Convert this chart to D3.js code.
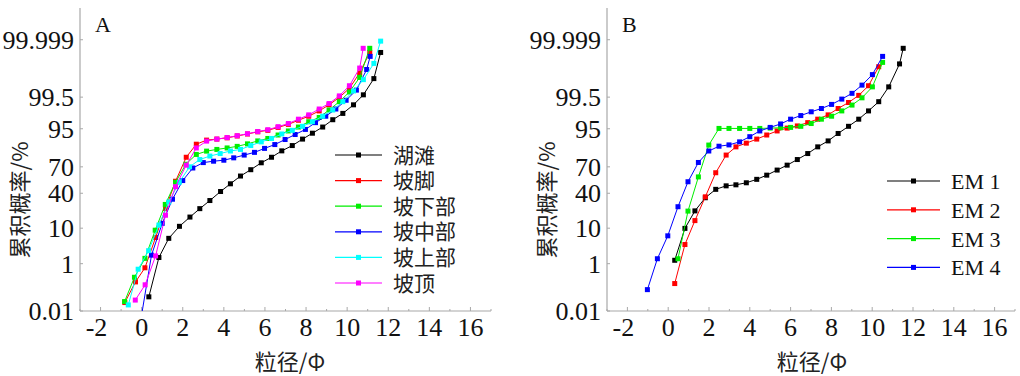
<!DOCTYPE html>
<html>
<head>
<meta charset="utf-8">
<script src="https://cdn.jsdelivr.net/npm/d3@7"></script>
<style>
  body { margin: 0; background: #fff; }
  svg { display: block; }
  .tick-label { font-family: "Liberation Serif", "Times New Roman", serif; font-size: 26px; fill: #111; }
  .cjk { font-family: "Noto Sans CJK SC", sans-serif; fill: #222; }
</style>
</head>
<body>
<svg id="chart" width="1020" height="376"></svg>
<script>
// ---- data (percent cumulative vs phi) ----
var yTicks = [0.01, 1, 10, 40, 70, 95, 99.5, 99.999];
var xTicks = [-2, 0, 2, 4, 6, 8, 10, 12, 14, 16];

var namesA = ['湖滩', '坡脚', '坡下部', '坡中部', '坡上部', '坡顶'];
var namesB = ['EM 1', 'EM 2', 'EM 3', 'EM 4'];
var colorsA = ['#000000', '#ff0000', '#00ee00', '#0000ff', '#00ffff', '#ff00ff'];
var colorsB = ['#000000', '#ff0000', '#00ee00', '#0000ff'];

var lakeX = [0.35,0.84,1.32,1.84,2.35,2.83,3.32,3.84,4.32,4.81,5.31,5.82,6.32,6.82,7.33,7.83,8.31,8.81,9.30,9.79,10.31,10.79,11.30,11.63];
var lakeP = [0.048,1.6,5.7,11,17,24,32,42,51,60,67,74,79,84,87.5,91,93.5,95.5,97.2,98.2,99.06,99.59,99.91,99.995];

var footX = [-0.82,-0.30,0.16,0.68,1.16,1.65,2.17,2.66,3.16,3.66,4.16,4.65,5.15,5.65,6.14,6.64,7.14,7.63,8.13,8.64,9.12,9.62,10.11,10.61,11.10];
var footP = [0.026,0.21,0.72,6.0,24,54,79,88.3,90.5,91,91.6,92.4,93.2,94,94.5,95.4,96.2,97.1,97.8,98.5,99.06,99.49,99.77,99.95,99.995];

var lowX = [-0.83,-0.35,0.16,0.66,1.15,1.65,2.15,2.66,3.16,3.66,4.16,4.65,5.15,5.65,6.14,6.64,7.14,7.63,8.13,8.64,9.12,9.62,10.11,10.61,11.10];
var lowP = [0.029,0.32,1.5,9,28,52.8,72.6,81.3,83.8,85,86,87,88.5,90.1,91.3,92.8,94.3,95.5,96.8,97.6,98.6,99.27,99.68,99.92,99.997];

var midX = [-0.05,0.48,1.0,1.5,2.0,2.49,3.0,3.5,4.0,4.48,4.99,5.49,5.98,6.48,6.98,7.47,7.97,8.46,8.96,9.45,9.95,10.45,10.95,11.12];
var midP = [0.003,1.9,12.7,33.4,54.8,68.8,74.2,75.5,76.4,78.5,80.8,82.9,85.7,88.1,90.8,93,94.8,96.6,97.8,98.7,99.35,99.73,99.965,99.992];

var upX = [-0.65,-0.17,0.34,0.84,1.32,1.83,2.33,2.83,3.32,3.82,4.32,4.81,5.31,5.82,6.32,6.82,7.33,7.83,8.31,8.81,9.30,9.79,10.31,10.79,11.30,11.63];
var upP = [0.02,0.64,2.6,11.7,30.5,52.8,70,77,80,82,83.9,85,87.5,89.6,91.3,93.2,94.5,95.7,96.8,97.8,98.6,99.27,99.71,99.90,99.982,99.9988];

var topX = [-0.31,0.17,0.68,1.16,1.65,2.17,2.66,3.16,3.66,4.16,4.65,5.15,5.65,6.14,6.64,7.14,7.63,8.13,8.64,9.12,9.62,10.11,10.61,10.78];
var topP = [0.034,0.16,1.8,18.4,47.6,71.7,86,90,91,91.7,92.5,93.3,94.1,94.7,95.6,96.4,97.3,98,98.7,99.15,99.55,99.82,99.97,99.997];

var em1X = [0.32,0.82,1.31,1.82,2.33,2.84,3.32,3.83,4.34,4.83,5.34,5.83,6.33,6.84,7.33,7.84,8.33,8.84,9.34,9.82,10.32,10.81,11.34,11.52];
var em1P = [1.3,9.9,22,35,44.5,48.6,49.8,52.2,56.2,61,66.6,71.7,77,82,86.7,90.1,93.4,95.7,97.3,98.5,99.27,99.80,99.981,99.997];

var em2X = [0.32,0.82,1.31,1.82,2.33,2.84,3.32,3.83,4.34,4.83,5.34,5.83,6.33,6.84,7.33,7.84,8.33,8.84,9.34,9.82,10.32];
var em2P = [0.18,3.9,14.5,36,63.7,80.8,86.7,88.9,91,92.8,94.3,95.2,95.8,96.6,97.3,98.0,98.75,99.22,99.57,99.82,99.974];

var em3X = [0.48,0.97,1.48,1.99,2.49,2.98,3.50,4.0,4.49,5.0,5.51,6.0,6.50,7.01,7.51,8.01,8.51,9.01,9.50,10.01,10.51];
var em3P = [1.46,21.8,59,87.8,95.1,95.1,95.1,95.1,95.1,95.2,95.3,95.4,95.7,96.4,97.3,97.8,98.5,99.04,99.47,99.80,99.984];

var em4X = [-1.02,-0.53,-0.02,0.48,0.97,1.48,1.99,2.49,2.98,3.50,4.0,4.49,5.0,5.51,6.0,6.50,7.01,7.51,8.01,8.51,9.01,9.50,10.01,10.51];
var em4P = [0.10,1.46,6.6,25.8,53.4,74.3,83.9,87.1,87.9,89.6,92.1,94.3,95.4,96.3,97.3,97.9,98.4,98.75,99.09,99.41,99.64,99.83,99.94,99.992];

// inverse normal cdf (Acklam) -> probability axis
function probit(p) {
    var a = [-3.969683028665376e+01, 2.209460984245205e+02, -2.759285104469687e+02, 1.383577518672690e+02, -3.066479806614716e+01, 2.506628277459239e+00];
    var b = [-5.447609879822406e+01, 1.615858368580409e+02, -1.556989798598866e+02, 6.680131188771972e+01, -1.328068155288572e+01];
    var c = [-7.784894002430293e-03, -3.223964580411365e-01, -2.400758277161838e+00, -2.549732539343734e+00, 4.374664141464968e+00, 2.938163982698783e+00];
    var d = [7.784695709041462e-03, 3.224671290700398e-01, 2.445134137142996e+00, 3.754408661907416e+00];
    var plow = 0.02425, q, r;
    if (p < plow) {
        q = Math.sqrt(-2 * Math.log(p));
        return (((((c[0]*q+c[1])*q+c[2])*q+c[3])*q+c[4])*q+c[5]) / ((((d[0]*q+d[1])*q+d[2])*q+d[3])*q+1);
    }
    if (p <= 1 - plow) {
        q = p - 0.5; r = q * q;
        return (((((a[0]*r+a[1])*r+a[2])*r+a[3])*r+a[4])*r+a[5])*q / (((((b[0]*r+b[1])*r+b[2])*r+b[3])*r+b[4])*r+1);
    }
    q = Math.sqrt(-2 * Math.log(1 - p));
    return -(((((c[0]*q+c[1])*q+c[2])*q+c[3])*q+c[4])*q+c[5]) / ((((d[0]*q+d[1])*q+d[2])*q+d[3])*q+1);
}

var svg = d3.select("#chart");
var plotTop = 8, plotBottom = 311;

var zScale = d3.scaleLinear()
    .domain([probit(0.0001), probit(0.9999999)])
    .range([plotBottom, plotTop]);
function yPos(pct) { return zScale(probit(pct / 100)); }

function drawPanel(cfg) {
    var x = d3.scaleLinear().domain([-3, 17]).range([cfg.left, cfg.right]);
    var g = svg.append("g");

    // axes lines
    g.append("line").attr("x1", cfg.left).attr("x2", cfg.left).attr("y1", plotTop).attr("y2", plotBottom)
        .attr("stroke", "#a8a8a8").attr("stroke-width", 1.2);
    g.append("line").attr("x1", cfg.left).attr("x2", cfg.right).attr("y1", plotBottom).attr("y2", plotBottom)
        .attr("stroke", "#a8a8a8").attr("stroke-width", 1.2);

    // x ticks (major + minor, inward)
    d3.range(-3, 18, 1).forEach(function(v) {
        var major = v % 2 === 0;
        g.append("line").attr("x1", x(v)).attr("x2", x(v))
            .attr("y1", plotBottom).attr("y2", plotBottom - (major ? 4 : 2))
            .attr("stroke", "#a8a8a8");
    });
    g.selectAll("text.xt").data(xTicks).enter().append("text")
        .attr("class", "tick-label")
        .attr("x", function(d) { return x(d) - (d < 0 ? 4 : 0); })
        .attr("y", 336)
        .attr("text-anchor", "middle")
        .text(function(d) { return d; });

    // y ticks
    g.selectAll("line.yt").data(yTicks).enter().append("line")
        .attr("x1", cfg.left).attr("x2", cfg.left + 3)
        .attr("y1", function(d) { return yPos(d); })
        .attr("y2", function(d) { return yPos(d); })
        .attr("stroke", "#a8a8a8");
    g.selectAll("text.yt").data(yTicks).enter().append("text")
        .attr("class", "tick-label")
        .attr("x", cfg.left - 6)
        .attr("y", function(d) { return yPos(d); })
        .attr("dy", "0.35em")
        .attr("text-anchor", "end")
        .text(function(d) { return d; });

    // titles
    g.append("text").attr("class", "cjk")
        .attr("transform", "translate(" + (cfg.left - 52) + ",200) rotate(-90)")
        .attr("text-anchor", "middle").attr("font-size", 22)
        .text("累积概率/%");
    g.append("text").attr("class", "cjk")
        .attr("x", cfg.xTitle).attr("y", 370)
        .attr("text-anchor", "middle").attr("font-size", 22)
        .text("粒径/Φ");
    g.append("text").attr("class", "tick-label")
        .attr("x", cfg.left + 15).attr("y", 32)
        .style("font-size", "22px")
        .text(cfg.tag);

    // series, clipped to plot area
    svg.append("clipPath").attr("id", "clip" + cfg.tag)
        .append("rect").attr("x", cfg.left).attr("y", plotTop - 4)
        .attr("width", cfg.right - cfg.left).attr("height", plotBottom - plotTop + 4);
    var plot = g.append("g").attr("clip-path", "url(#clip" + cfg.tag + ")");

    var line = d3.line().x(function(d) { return x(d[0]); }).y(function(d) { return yPos(d[1]); });

    cfg.series.forEach(function(s) {
        var pts = d3.zip(s.xs, s.ps);
        plot.append("path").datum(pts)
            .attr("fill", "none").attr("stroke", s.color).attr("stroke-width", 1)
            .attr("d", line);
        plot.selectAll(null).data(pts).enter().append("rect")
            .attr("x", function(d) { return x(d[0]) - 2.5; })
            .attr("y", function(d) { return yPos(d[1]) - 2.5; })
            .attr("width", 5).attr("height", 5)
            .attr("fill", s.color);
    });

    // legend
    var lg = g.append("g");
    cfg.series.forEach(function(s, i) {
        var ly = cfg.legendY + i * cfg.legendStep;
        lg.append("line").attr("x1", cfg.legendX).attr("x2", cfg.legendX + cfg.legendLen)
            .attr("y1", ly).attr("y2", ly).attr("stroke", s.color).attr("stroke-width", 1.2);
        lg.append("rect").attr("x", cfg.legendX + cfg.legendLen / 2 - 2.5).attr("y", ly - 2.5)
            .attr("width", 5).attr("height", 5).attr("fill", s.color);
        lg.append("text")
            .attr("class", cfg.legendFont)
            .attr("x", cfg.legendX + cfg.legendLen + 11).attr("y", ly)
            .attr("dy", "0.36em")
            .style("font-size", cfg.legendSize + "px")
            .text(s.name);
    });
}

var seriesA = [[lakeX, lakeP], [footX, footP], [lowX, lowP], [midX, midP], [upX, upP], [topX, topP]]
    .map(function(d, i) { return {xs: d[0], ps: d[1], name: namesA[i], color: colorsA[i]}; });
var seriesB = [[em1X, em1P], [em2X, em2P], [em3X, em3P], [em4X, em4P]]
    .map(function(d, i) { return {xs: d[0], ps: d[1], name: namesB[i], color: colorsB[i]}; });

drawPanel({tag: "A", left: 80, right: 491, xTitle: 290, series: seriesA,
    legendX: 335, legendY: 155, legendStep: 25.6, legendLen: 47, legendFont: "cjk", legendSize: 21});
drawPanel({tag: "B", left: 607, right: 1015, xTitle: 812, series: seriesB,
    legendX: 887, legendY: 181, legendStep: 28.8, legendLen: 53, legendFont: "tick-label", legendSize: 22});
</script>
</body>
</html>
